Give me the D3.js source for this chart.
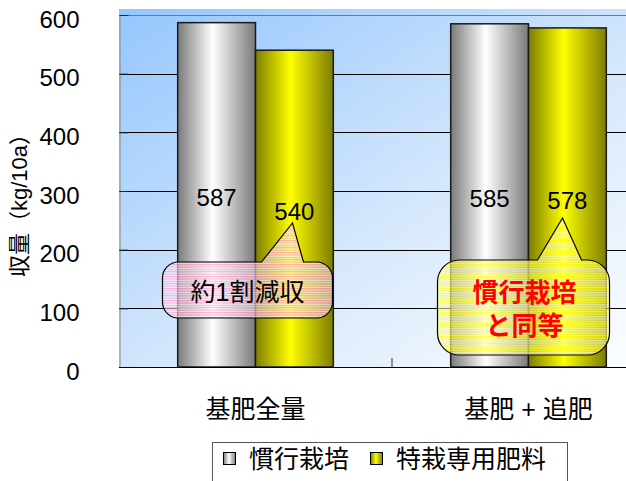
<!DOCTYPE html>
<html>
<head>
<meta charset="utf-8">
<script src="https://cdn.jsdelivr.net/npm/d3@7"></script>
<style>
  html, body { margin: 0; padding: 0; background: #fff; }
  svg { display: block; font-family: "Liberation Sans", Arial, "Noto Sans CJK JP", sans-serif; }
</style>
</head>
<body>
<div id="chart"></div>
<script>
// chart data
const categories = ["基肥全量", "基肥 + 追肥"];
const seriesNames = ["慣行栽培", "特栽専用肥料"];
const conventional = [587, 585];
const special = [540, 578];
const yTicks = [0, 100, 200, 300, 400, 500, 600];
const yTitle = "収量（kg/10a）";
const noteLeft = ["約1割減収"];
const noteRight = ["慣行栽培", "と同等"];

const width = 626, height = 481;
const margin = { left: 119, top: 15, bottom: 114 };
const plotRight = 665; // plot runs past the picture edge

const svg = d3.select("#chart").append("svg")
  .attr("width", width)
  .attr("height", height);

const defs = svg.append("defs");

// background gradient
const bg = defs.append("linearGradient").attr("id", "bg")
  .attr("x1", "0%").attr("y1", "0%").attr("x2", "100%").attr("y2", "100%");
bg.append("stop").attr("offset", "0%").attr("stop-color", "#94c6fe");
bg.append("stop").attr("offset", "55%").attr("stop-color", "#d6e8fc");
bg.append("stop").attr("offset", "100%").attr("stop-color", "#ffffff");

function barGradient(id, dark, light) {
  const g = defs.append("linearGradient").attr("id", id)
    .attr("x1", "0%").attr("y1", "0%").attr("x2", "100%").attr("y2", "0%");
  g.append("stop").attr("offset", "0%").attr("stop-color", dark);
  g.append("stop").attr("offset", "45%").attr("stop-color", light);
  g.append("stop").attr("offset", "100%").attr("stop-color", dark);
}
barGradient("gGray", "#7a7a7a", "#ffffff");
barGradient("gYellow", "#7d7d00", "#ffff00");

function stripes(id, c1, c2) {
  const p = defs.append("pattern").attr("id", id)
    .attr("patternUnits", "userSpaceOnUse")
    .attr("width", 4).attr("height", 2.4);
  p.append("rect").attr("width", 4).attr("height", 1.2).attr("fill", c1);
  p.append("rect").attr("y", 1.2).attr("width", 4).attr("height", 1.2).attr("fill", c2);
}
stripes("pinkStripe", "#ff9fd0", "#fff4fa");
stripes("yellowStripe", "#ffff10", "#ffffc8");

// scales
const y = d3.scaleLinear().domain([0, 600]).range([height - margin.bottom, margin.top]);
const x0 = d3.scaleBand().domain(categories).range([margin.left, plotRight])
  .paddingInner(0.43).paddingOuter(0.215);
const x1 = d3.scaleBand().domain(seriesNames).range([0, x0.bandwidth()]);

const y0 = y(0);

// plot area
svg.append("rect")
  .attr("x", margin.left).attr("y", y(600) - 6)
  .attr("width", plotRight - margin.left).attr("height", y0 - y(600) + 6)
  .attr("fill", "url(#bg)");

// gridlines
svg.append("g").selectAll("line")
  .data(yTicks.filter(d => d > 0))
  .join("line")
  .attr("x1", margin.left).attr("x2", plotRight)
  .attr("y1", d => Math.round(y(d)) + 0.5).attr("y2", d => Math.round(y(d)) + 0.5)
  .attr("stroke", d => d === 600 ? "#6d7c8c" : "#000")
  .attr("stroke-width", 1);

// y axis
const yAxis = d3.axisLeft(y).tickValues(yTicks).tickSize(-9).tickPadding(40);
const yg = svg.append("g")
  .attr("transform", `translate(${margin.left + 0.5},0)`)
  .call(yAxis);
yg.select(".domain").attr("stroke", "#888");
yg.selectAll(".tick line").attr("stroke", "#223");
yg.selectAll(".tick text")
  .attr("font-size", 24)
  .attr("font-family", "'Liberation Sans', Arial, sans-serif")
  .attr("fill", "#000")
  .attr("dy", "0.5em");

svg.append("text")
  .attr("transform", `translate(27,${(y(600) + y0) / 2 + 9}) rotate(-90)`)
  .attr("text-anchor", "middle")
  .attr("font-size", 22)
  .text(yTitle);

// bars
const groups = svg.append("g").selectAll("g")
  .data(categories)
  .join("g")
  .attr("transform", d => `translate(${x0(d)},0)`);

const barData = (c, i) => [
  { s: seriesNames[0], v: conventional[i], fill: "url(#gGray)" },
  { s: seriesNames[1], v: special[i], fill: "url(#gYellow)" }
];

groups.selectAll("rect")
  .data(barData)
  .join("rect")
  .attr("x", d => x1(d.s))
  .attr("y", d => y(d.v))
  .attr("width", x1.bandwidth())
  .attr("height", d => y0 - y(d.v))
  .attr("fill", d => d.fill)
  .attr("stroke", "#1a1a1a")
  .attr("stroke-width", 1.5);

groups.selectAll("text.val")
  .data(barData)
  .join("text")
  .attr("class", "val")
  .attr("x", d => x1(d.s) + x1.bandwidth() / 2)
  .attr("y", d => (y(d.v) + y0) / 2 + 3)
  .attr("dy", "0.35em")
  .attr("text-anchor", "middle")
  .attr("font-size", 24)
  .text(d => d.v);

// x axis
svg.append("line")
  .attr("x1", margin.left).attr("x2", plotRight)
  .attr("y1", y0 + 0.5).attr("y2", y0 + 0.5)
  .attr("stroke", "#000").attr("stroke-width", 1.2);
const mid = x0.step() + margin.left;
svg.append("line")
  .attr("x1", mid).attr("x2", mid)
  .attr("y1", y0).attr("y2", y0 - 9)
  .attr("stroke", "#333");

svg.append("g").selectAll("text")
  .data(categories)
  .join("text")
  .attr("x", d => x0(d) + x0.bandwidth() / 2)
  .attr("y", 409)
  .attr("dy", "0.36em")
  .attr("text-anchor", "middle")
  .attr("font-size", 25)
  .text(d => d);

// callouts
function calloutPath(a, b, c, d, r, bx0, bx1, tx, ty) {
  return `M${a + r},${b} L${bx0},${b} L${tx},${ty} L${bx1},${b} L${c - r},${b}` +
    ` A${r},${r} 0 0 1 ${c},${b + r} L${c},${d - r} A${r},${r} 0 0 1 ${c - r},${d}` +
    ` L${a + r},${d} A${r},${r} 0 0 1 ${a},${d - r} L${a},${b + r} A${r},${r} 0 0 1 ${a + r},${b} Z`;
}

const cx0 = x0(categories[0]) + x0.bandwidth() / 2;
const cx1 = x0(categories[1]) + x0.bandwidth() / 2;

svg.append("path")
  .attr("d", calloutPath(cx0 - 93, 262, cx0 + 77, 318, 16, cx0 + 6, cx0 + 48, cx0 + 37, 223))
  .attr("fill", "url(#pinkStripe)")
  .attr("fill-opacity", 0.72)
  .attr("stroke", "#000").attr("stroke-width", 1.2);

svg.append("text")
  .attr("x", cx0 - 8).attr("y", 292)
  .attr("dy", "0.36em")
  .attr("text-anchor", "middle")
  .attr("font-size", 25)
  .text(noteLeft[0]);

svg.append("path")
  .attr("d", calloutPath(cx1 - 91, 260, cx1 + 81, 355, 22, cx1 + 9, cx1 + 53, cx1 + 34, 218))
  .attr("fill", "url(#yellowStripe)")
  .attr("fill-opacity", 0.72)
  .attr("stroke", "#000").attr("stroke-width", 1.2);

svg.append("g").selectAll("text")
  .data(noteRight)
  .join("text")
  .attr("x", cx1 - 4)
  .attr("y", (d, i) => 293 + i * 33)
  .attr("dy", "0.36em")
  .attr("text-anchor", "middle")
  .attr("font-size", 26)
  .attr("font-weight", "bold")
  .attr("fill", "#ff0000")
  .text(d => d);

// legend
const lg = svg.append("g");
lg.append("rect")
  .attr("x", 212.5).attr("y", 442.5)
  .attr("width", 355).attr("height", 60)
  .attr("fill", "#fff").attr("stroke", "#555");

const legendX = [223, 370];
const legendFill = ["url(#gGray)", "url(#gYellow)"];
seriesNames.forEach((s, i) => {
  lg.append("rect")
    .attr("x", legendX[i] + 0.5).attr("y", 452.5)
    .attr("width", 12).attr("height", 12)
    .attr("fill", legendFill[i])
    .attr("stroke", "#000");
  lg.append("text")
    .attr("x", legendX[i] + 26).attr("y", 459)
    .attr("dy", "0.36em")
    .attr("font-size", 25)
    .text(s);
});
</script>
</body>
</html>
